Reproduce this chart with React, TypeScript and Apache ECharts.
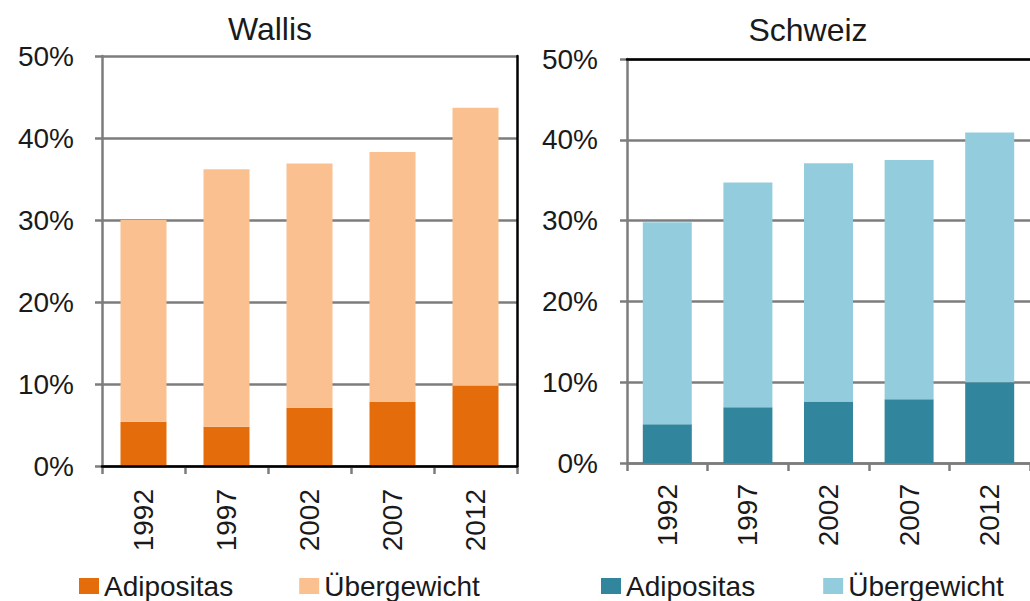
import React, { useEffect, useRef } from 'react';
import * as echarts from 'echarts';

const years = ['1992', '1997', '2002', '2007', '2012'];
const titles = ['Wallis', 'Schweiz'];
const seriesNames = ['Adipositas', 'Übergewicht'];
// values in percent (Übergewicht = segment stacked on top of Adipositas)
const wallisAdipositas = [5.4, 4.8, 7.1, 7.8, 9.8];
const wallisUebergewicht = [24.6, 31.4, 29.8, 30.5, 33.9];
const schweizAdipositas = [4.8, 6.9, 7.6, 7.9, 10.0];
const schweizUebergewicht = [25.0, 27.8, 29.5, 29.6, 30.9];
const wallisColors = ['#E46C0A', '#FAC090'];
const schweizColors = ['#31859C', '#93CDDD'];

const FONT = '"Liberation Sans", Arial, sans-serif';
const GREY = '#7c7c7c';
const TXT = '#1a1a1a';

export default function App() {
  const ref = useRef<HTMLDivElement>(null);
  useEffect(() => {
    if (!ref.current) return;
    const chart = echarts.init(ref.current, undefined, { renderer: 'svg' });

    const bottomX = (gridIndex: number, margin: number) => ({
      type: 'category',
      gridIndex,
      data: years,
      position: 'bottom',
      boundaryGap: true,
      axisLine: { show: true, lineStyle: { color: GREY, width: 2.5 } },
      axisTick: { show: true, length: 8, lineStyle: { color: GREY, width: 2.5 } },
      axisLabel: { rotate: 90, margin, fontSize: 28, color: TXT, fontFamily: FONT },
      splitLine: { show: false },
    });
    const topX = (gridIndex: number) => ({
      type: 'category',
      gridIndex,
      data: years,
      position: 'top',
      z: 10,
      axisLine: { show: true, lineStyle: { color: '#000', width: 2.5 } },
      axisTick: { show: false },
      axisLabel: { show: false },
      splitLine: { show: false },
    });
    const leftY = (gridIndex: number, margin: number) => ({
      type: 'value',
      gridIndex,
      min: 0,
      max: 50,
      interval: 10,
      position: 'left',
      axisLine: { show: true, lineStyle: { color: GREY, width: 2.5 } },
      axisTick: { show: true, length: 7, lineStyle: { color: GREY, width: 2.5 } },
      axisLabel: { formatter: '{value}%', margin, fontSize: 28, color: TXT, fontFamily: FONT },
      splitLine: { show: true, lineStyle: { color: GREY, width: 2.5 } },
    });
    const rightY = (gridIndex: number) => ({
      type: 'value',
      gridIndex,
      min: 0,
      max: 50,
      interval: 10,
      position: 'right',
      z: 10,
      axisLine: { show: true, lineStyle: { color: '#000', width: 2.5 } },
      axisTick: { show: false },
      axisLabel: { show: false },
      splitLine: { show: false },
    });

    const legend = (left: number, itemGap: number, colors: string[]) => ({
      left,
      top: 572,
      padding: 0,
      itemWidth: 20,
      itemHeight: 16,
      itemGap,
      icon: 'rect',
      selectedMode: false,
      textStyle: { fontSize: 28, color: TXT, fontFamily: FONT },
      data: seriesNames.map((n, i) => ({ name: n, itemStyle: { color: colors[i] } })),
    });

    chart.setOption({
      animation: false,
      backgroundColor: '#fff',
      textStyle: { fontFamily: FONT },
      title: [
        { text: titles[0], left: 270, top: 13, padding: 0, textAlign: 'center', textStyle: { fontSize: 32, fontWeight: 'normal', color: TXT, fontFamily: FONT } },
        { text: titles[1], left: 808, top: 14, padding: 0, textAlign: 'center', textStyle: { fontSize: 32, fontWeight: 'normal', color: TXT, fontFamily: FONT } },
      ],
      legend: [legend(79, 66, wallisColors), legend(601, 68, schweizColors)],
      grid: [
        { left: 102, top: 56, width: 415, height: 410 },
        { left: 627, top: 59, width: 417, height: 404 },
      ],
      xAxis: [bottomX(0, 23), bottomX(1, 21), topX(0), topX(1)],
      yAxis: [leftY(0, 28), leftY(1, 29), rightY(0)],
      series: [
        { name: seriesNames[0], type: 'bar', stack: 'w', xAxisIndex: 0, yAxisIndex: 0, barWidth: 46, itemStyle: { color: wallisColors[0] }, data: wallisAdipositas },
        { name: seriesNames[1], type: 'bar', stack: 'w', xAxisIndex: 0, yAxisIndex: 0, barWidth: 46, itemStyle: { color: wallisColors[1] }, data: wallisUebergewicht },
        { name: seriesNames[0], type: 'bar', stack: 's', xAxisIndex: 1, yAxisIndex: 1, barWidth: 49, itemStyle: { color: schweizColors[0] }, data: schweizAdipositas },
        { name: seriesNames[1], type: 'bar', stack: 's', xAxisIndex: 1, yAxisIndex: 1, barWidth: 49, itemStyle: { color: schweizColors[1] }, data: schweizUebergewicht },
      ],
    });
    return () => chart.dispose();
  }, []);
  return (
    <div
      ref={ref}
      style={{ position: 'fixed', left: 0, top: 0, width: 1030, height: 601, background: '#fff' }}
    />
  );
}
